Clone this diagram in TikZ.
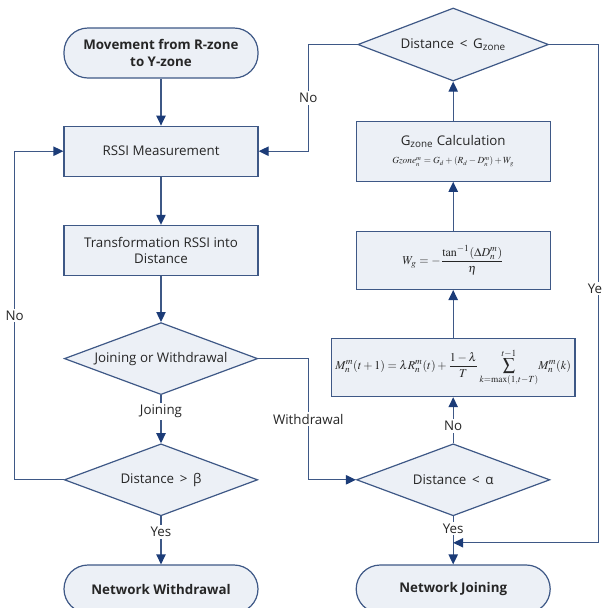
\documentclass[tikz,border=0pt]{standalone}
\usepackage{amsmath}
\usepackage{mathptmx}
\usepackage{fontspec}
\setmainfont{Open Sans}
\usetikzlibrary{positioning,arrows.meta,calc,shapes.geometric}
\definecolor{edgeblue}{RGB}{62,88,134}
\definecolor{tipblue}{RGB}{28,60,120}
\definecolor{boxfill}{RGB}{236,240,246}

\begin{document}
\begin{tikzpicture}[
  font=\fontsize{10}{12.5}\selectfont,
  line/.style={-{Triangle[length=7.5pt,width=7pt,color=tipblue]}, line width=0.9pt, draw=edgeblue},
  procbox/.style={draw=edgeblue, line width=0.9pt, fill=boxfill, text=black!85, align=center, minimum width=145.5pt, inner sep=3pt},
  termbox/.style={procbox, rounded corners=18pt, minimum height=37.5pt, font=\fontsize{10}{12.5}\selectfont\bfseries},
  testbox/.style={draw=edgeblue, line width=0.9pt, fill=boxfill, text=black!85, diamond, aspect=2.7, minimum width=145pt, minimum height=54pt, inner sep=1pt},
  edgelabel/.style={fill=white, text=black!85, inner sep=1.5pt}
]
\useasboundingbox (0,0) rectangle (451.5pt,-456pt);

% ========== LEFT: membership path ==========
\node[termbox] (start) at (120.75pt,-39.75pt) {Movement from R-zone\\to Y-zone};
\node[procbox, below=35.25pt of start, minimum height=37.5pt] (rssi) {RSSI Measurement};
\node[procbox, below=36pt of rssi, minimum height=37.5pt] (trans) {Transformation RSSI into\\Distance};
\node[testbox, below=34.5pt of trans] (jw) {Joining or Withdrawal};
\node[testbox, below=36pt of jw] (beta) {Distance \,>\, β};
\node[termbox, below=36pt of beta, minimum height=36pt] (nwd) {Network Withdrawal};

% ========== RIGHT: joining path (bottom up) ==========
\node[termbox, right=72.75pt of nwd, minimum height=36pt] (njoin) {Network Joining};
\node[testbox, above=36pt of njoin] (alpha) {Distance \,<\, α};
\node[procbox, above=34.5pt of alpha, minimum height=43.5pt] (mbox)
  {\fontsize{9}{10}\selectfont$M_n^m(t+1)=\lambda R_n^m(t)+\dfrac{1-\lambda}{T}\displaystyle\sum_{k=\max(1,t-T)}^{t-1}\!M_n^m(k)$};
\node[procbox, above=36pt of mbox, minimum height=43.5pt] (wg)
  {\fontsize{9}{10}\selectfont$W_g=-\dfrac{\tan^{-1}(\Delta D_n^m)}{\eta}$};
\node[procbox, above=36.75pt of wg, minimum height=45pt] (gcalc)
  {G\textsubscript{zone} Calculation\\[1pt]
   {\fontsize{7}{8}\selectfont$Gzone_n^m=G_d+(R_d-D_n^m)+W_g$}};
\node[testbox, above=29.25pt of gcalc, minimum height=54.75pt, minimum width=143pt] (gz) {Distance \,<\, G\textsubscript{zone}};

\coordinate (merge) at ($(alpha.south)!0.55!(njoin.north)$);

% ----- main flow -----
\draw[line] (start) -- (rssi);
\draw[line] (rssi) -- (trans);
\draw[line] (trans) -- (jw);
\draw[line] (jw) -- (beta) node[edgelabel, pos=0.33] {Joining};
\draw[line] (beta) -- (nwd) node[edgelabel, pos=0.33] {Yes};

% ----- loops back to RSSI -----
\draw[line] (beta.west) -- ++(-36.75pt,0) |- (rssi.west) node[edgelabel, pos=0.25] {No};
\draw[line] (gz.west) -- ++(-36.75pt,0) |- (rssi.east) node[edgelabel, pos=0.25] {No};

% ----- withdrawal branch -----
\draw[line] (jw.east) -- ++(37.5pt,0) |- (alpha.west) node[edgelabel, pos=0.25] {Withdrawal};

% ----- right column (upwards) -----
\draw[line] (alpha) -- (mbox) node[edgelabel, pos=0.37] {No};
\draw[line] (mbox) -- (wg);
\draw[line] (wg) -- (gcalc);
\draw[line] (gcalc) -- (gz);
\draw[line] (alpha) -- (njoin) node[edgelabel, pos=0.25] {Yes};
\draw[line] (gz.east) -- ++(36.75pt,0) |- (merge) node[edgelabel, pos=0.245] {Yes};

\end{tikzpicture}
\end{document}
